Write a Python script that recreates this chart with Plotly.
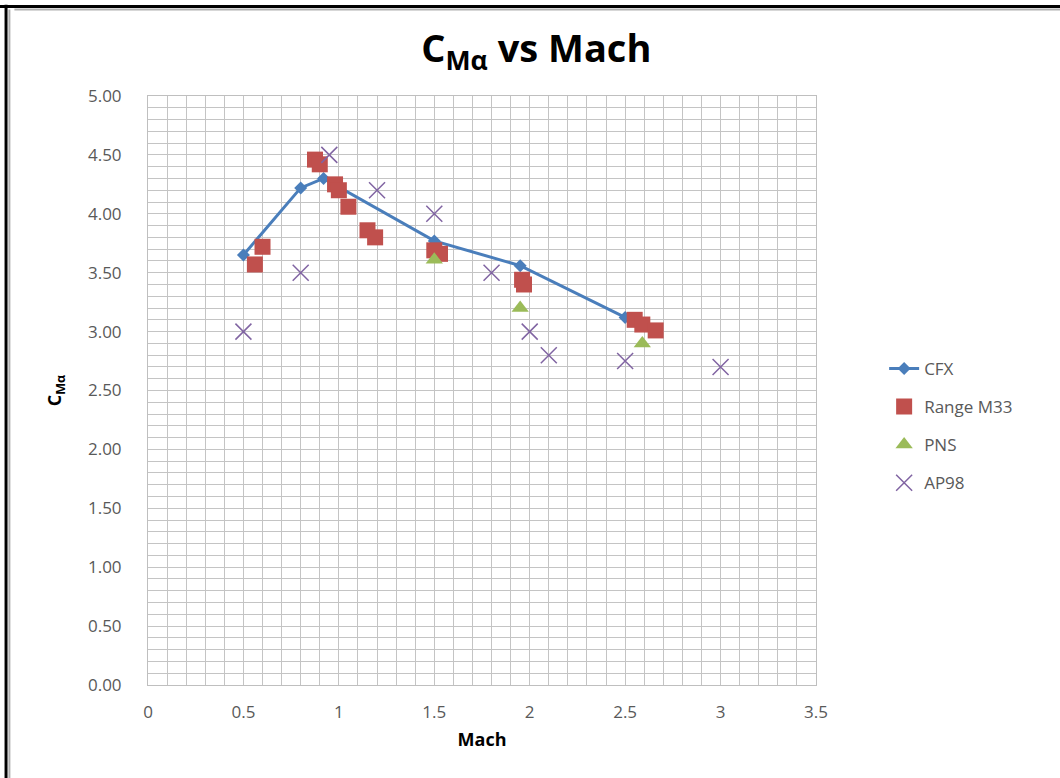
import plotly.graph_objects as go

# ---- data ----
cfx_mach = [0.5, 0.8, 0.92, 1.5, 1.95, 2.5]
cfx_cma = [3.65, 4.22, 4.30, 3.77, 3.56, 3.12]

m33_mach = [0.56, 0.60, 0.875, 0.90, 0.98, 1.0, 1.05, 1.15, 1.19, 1.50, 1.53, 1.96, 1.97, 2.55, 2.59, 2.66]
m33_cma = [3.57, 3.72, 4.46, 4.42, 4.25, 4.20, 4.06, 3.86, 3.80, 3.69, 3.66, 3.44, 3.40, 3.10, 3.06, 3.01]

pns_mach = [1.50, 1.95, 2.59]
pns_cma = [3.61, 3.20, 2.90]

ap98_mach = [0.5, 0.8, 0.95, 1.2, 1.5, 1.8, 2.0, 2.1, 2.5, 3.0]
ap98_cma = [3.0, 3.5, 4.5, 4.2, 4.0, 3.5, 3.0, 2.8, 2.75, 2.7]

x_ticks = [0, 0.5, 1, 1.5, 2, 2.5, 3, 3.5]
x_ticklabels = ["0", "0.5", "1", "1.5", "2", "2.5", "3", "3.5"]
y_ticks = [0, 0.5, 1, 1.5, 2, 2.5, 3, 3.5, 4, 4.5, 5]
y_ticklabels = ["0.00", "0.50", "1.00", "1.50", "2.00", "2.50", "3.00", "3.50", "4.00", "4.50", "5.00"]

FONT = "'Open Sans', Lato, sans-serif"
GRID = "#c4c4c4"
TXT = "#595959"

fig = go.Figure()
fig.add_trace(go.Scatter(
    x=cfx_mach, y=cfx_cma, name="CFX", mode="lines+markers", legendgroup="a",
    line=dict(color="#4a7ebb", width=3),
    marker=dict(symbol="diamond", size=10, color="#4a7ebb")))
fig.add_trace(go.Scatter(
    x=m33_mach, y=m33_cma, name="Range M33", mode="markers", legendgroup="b",
    marker=dict(symbol="square", size=16, color="#c0504d")))
fig.add_trace(go.Scatter(
    x=pns_mach, y=pns_cma, name="PNS", mode="markers", legendgroup="c",
    marker=dict(symbol="triangle-up", size=15, color="#9bbb59")))
fig.add_trace(go.Scatter(
    x=ap98_mach, y=ap98_cma, name="AP98", mode="markers", legendgroup="d",
    marker=dict(symbol="x-thin", size=16, line=dict(color="#8064a2", width=1.5), color="#8064a2")))

fig.update_layout(
    width=1060, height=778,
    margin=dict(l=148, r=244, t=96, b=93),
    paper_bgcolor="white", plot_bgcolor="white",
    font=dict(family=FONT, color=TXT, size=17),
    title=dict(text="<b>C<sub>Mα</sub> vs Mach</b>", x=0.506, xref="container", xanchor="center",
               y=0.938, yref="container", yanchor="middle",
               font=dict(family=FONT, size=38, color="#000000")),
    legend=dict(x=1.102, xanchor="left", y=0.44, yanchor="middle",
                traceorder="grouped", tracegroupgap=13,
                font=dict(family=FONT, size=17, color=TXT), bgcolor="rgba(0,0,0,0)"),
    showlegend=True,
)

fig.update_xaxes(
    range=[0, 3.5], tickvals=x_ticks, ticktext=x_ticklabels,
    showgrid=True, gridcolor=GRID, gridwidth=1,
    minor=dict(dtick=0.1, showgrid=True, gridcolor=GRID, gridwidth=1),
    showline=True, linecolor="#bfbfbf", linewidth=1, mirror=True,
    ticks="", ticklabelstandoff=12, zeroline=False,
    tickfont=dict(family=FONT, size=17, color=TXT),
    title=dict(text="<b>Mach</b>", font=dict(family=FONT, size=18, color="#000000"), standoff=10),
)
fig.update_yaxes(
    range=[0, 5], tickvals=y_ticks, ticktext=y_ticklabels,
    showgrid=True, gridcolor=GRID, gridwidth=1,
    minor=dict(dtick=0.1, showgrid=True, gridcolor=GRID, gridwidth=1),
    showline=True, linecolor="#bfbfbf", linewidth=1, mirror=True,
    ticks="", ticklabelstandoff=22, zeroline=False,
    tickfont=dict(family=FONT, size=17, color=TXT),
)

# y axis title
fig.add_annotation(text="<b>C<sub>Mα</sub></b>", xref="paper", yref="paper",
                   x=-0.138, y=0.5, xanchor="center", yanchor="middle",
                   textangle=-90, showarrow=False,
                   font=dict(family=FONT, size=18, color="#000000"))

# outer frame (decoration)
fig.add_shape(type="line", xref="paper", yref="paper", x0=-0.225, x1=1.40, y0=1.152, y1=1.152,
              line=dict(color="black", width=3))
fig.add_shape(type="line", xref="paper", yref="paper", x0=-0.2125, x1=-0.2125, y0=1.155, y1=-0.2,
              line=dict(color="black", width=3))
fig.add_shape(type="line", xref="paper", yref="paper", x0=-0.2, x1=1.40, y0=1.147, y1=1.147,
              line=dict(color="#b0b0b0", width=2))
fig.add_shape(type="line", xref="paper", yref="paper", x0=-0.2075, x1=-0.2075, y0=1.147, y1=-0.2,
              line=dict(color="#b0b0b0", width=2))

fig.write_html("out.html", config={"displayModeBar": False},
               post_script="document.body.style.margin='0';")
